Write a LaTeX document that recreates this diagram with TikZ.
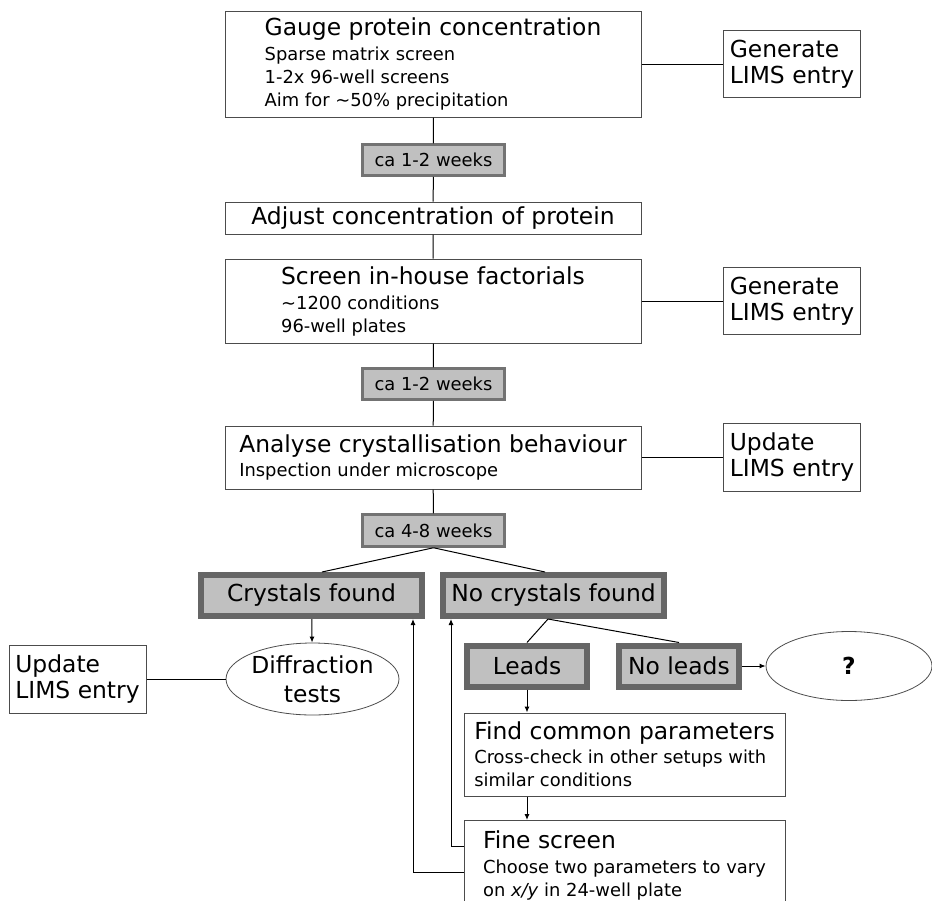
\documentclass[tikz,border=0pt]{standalone}
\usepackage{fontspec}
\setmainfont{DejaVu Sans}
\usetikzlibrary{shapes.geometric,arrows.meta}
\definecolor{waitgray}{HTML}{C0C0C0}
\newcommand\bigtxt{\fontsize{23.4}{26}\selectfont}
\newcommand\smalltxt{\fontsize{17.9}{23}\selectfont}
\tikzset{
  stagebox/.style={draw=black!70, line width=1pt, fill=white, align=left, inner sep=0pt, font=\smalltxt, minimum width=416},
  limsbox/.style={draw=black!70, line width=1pt, align=left, inner sep=0pt, font=\bigtxt, minimum width=137, minimum height=67},
  waitbox/.style={draw=black!55, line width=2.5pt, fill=waitgray, inner sep=0pt, font=\smalltxt, minimum width=142, minimum height=31},
  resultbox/.style={draw=black!60, line width=6pt, fill=waitgray, inner sep=0pt, font=\bigtxt, minimum height=41},
  ellbox/.style={ellipse, draw=black!70, line width=0.8pt, align=center, inner sep=0pt, font=\bigtxt},
  link/.style={line width=1pt},
  flow/.style={link, -{Latex[length=6pt,width=5pt]}}
}

\begin{document}
\begin{tikzpicture}[x=1pt, y=-1pt]
    \useasboundingbox (0,0) rectangle (932,900);

    % Main screening column
    \node[stagebox, minimum height=106] (gauge) at (433,64)
        {{\bigtxt Gauge protein concentration}\\[2pt] Sparse matrix screen\\ 1-2x 96-well screens\\ Aim for ∼50\% precipitation};
    \node[waitbox] (waitA) at (433.5,160) {ca 1-2 weeks};
    \node[stagebox, minimum height=32, font=\bigtxt] (adjust) at (433,218) {Adjust concentration of protein};
    \node[stagebox, minimum height=84] (screen) at (433,301)
        {{\bigtxt Screen in-house factorials}\\[2pt] ∼1200 conditions\\ 96-well plates};
    \node[waitbox] (waitB) at (433.5,384) {ca 1-2 weeks};
    \node[stagebox, minimum height=63] (analyse) at (433,457.5)
        {{\bigtxt Analyse crystallisation behaviour}\\[1pt] Inspection under microscope};
    \node[waitbox, minimum height=32] (waitC) at (433.5,530.5) {ca 4-8 weeks};

    % LIMS records
    \node[limsbox] (limsA) at (792,64) {Generate\\ LIMS entry};
    \node[limsbox] (limsB) at (792,301) {Generate\\ LIMS entry};
    \node[limsbox, minimum height=68] (limsC) at (792,457.5) {Update\\ LIMS entry};

    % Outcomes
    \node[resultbox, minimum width=221] (found) at (311.5,595.5) {Crystals found};
    \node[resultbox, minimum width=221] (notfound) at (553.5,595.5) {No crystals found};
    \node[ellbox, minimum width=171, minimum height=72] (diffract) at (312.5,679) {Diffraction\\[3pt] tests};
    \node[limsbox, minimum height=68] (limsD) at (77.5,679) {Update\\ LIMS entry};
    \node[resultbox, minimum width=120] (leads) at (527,666) {Leads};
    \node[resultbox, minimum width=120] (noleads) at (679,666) {No leads};
    \node[ellbox, minimum width=166, minimum height=69] (unknown) at (849,666) {\textbf{?}};
    \node[stagebox, minimum width=321, minimum height=83, inner sep=0pt] (common) at (624.5,754.5)
        {{\bigtxt Find common parameters}\\[1pt] Cross-check in other setups with\\ similar conditions};
    \node[stagebox, minimum width=321, minimum height=89, anchor=north] (fine) at (624.5,820)
        {{\bigtxt Fine screen}\\[2pt] Choose two parameters to vary\\ on \textit{x/y} in 24-well plate};

    % Connectors
    \draw[link] (gauge) -- (waitA) -- (adjust) -- (screen) -- (waitB) -- (analyse) -- (waitC);
    \draw[link] (gauge.east) -- (limsA.west);
    \draw[link] (screen.east) -- (limsB.west);
    \draw[link] (analyse.east) -- (limsC.west);
    \draw[link] (waitC.south) -- ([xshift=10.5]found.north);
    \draw[link] (waitC.south) -- ([xshift=-8.5]notfound.north);
    \draw[flow] (found) -- (diffract);
    \draw[link] (limsD.east) -- (diffract.west);
    \draw[link] ([xshift=-5.5]notfound.south) -- (leads.north);
    \draw[link] ([xshift=-5.5]notfound.south) -- (noleads.north);
    \draw[flow] (noleads.east) -- (unknown.west);
    \draw[flow] (leads.south) -- (leads.south |- common.north);
    \draw[flow] (leads.south |- common.south) -- (leads.south |- fine.north);

    % Feedback from the fine screen
    \draw[flow] ([yshift=-26]fine.north west) -| ([xshift=11]notfound.south west);
    \draw[flow] ([yshift=-52]fine.north west) -| ([xshift=-12]found.south east);
\end{tikzpicture}
\end{document}
